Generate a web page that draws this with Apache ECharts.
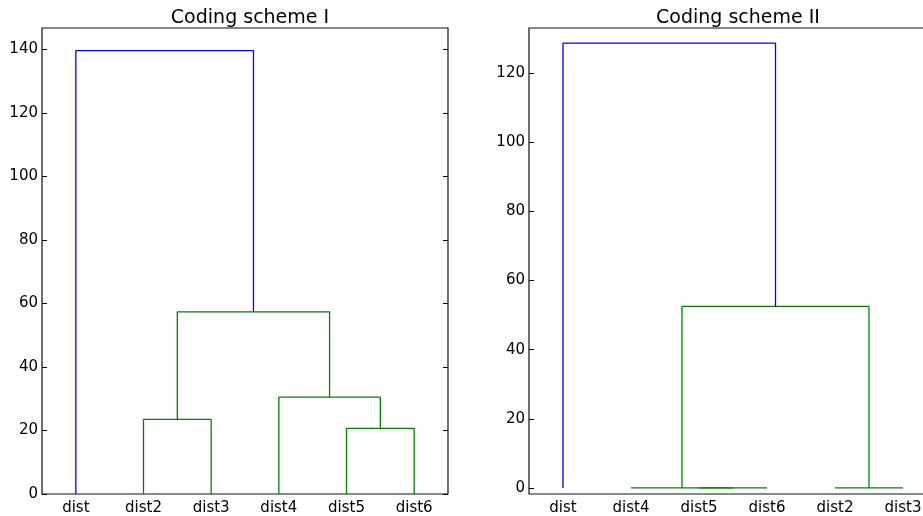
<!DOCTYPE html>
<html>
<head>
<meta charset="utf-8">
<script src="https://cdn.jsdelivr.net/npm/echarts@6/dist/echarts.min.js"></script>
<style>
html,body{margin:0;padding:0;overflow:hidden;background:#fff;}
#c{width:940px;height:516px;}
</style>
</head>
<body>
<div id="c"></div>
<script>
// ---- data ----
const titles = ['Coding scheme I', 'Coding scheme II'];
// leaf order as drawn
const leavesI = ['dist', 'dist2', 'dist3', 'dist4', 'dist5', 'dist6'];
const leavesII = ['dist', 'dist4', 'dist5', 'dist6', 'dist2', 'dist3'];
// merges: [childA, childB, height]; leaves are their index in leaf order, clusters are n + merge index
const mergesI = [[4, 5, 20.7], [1, 2, 23.5], [3, 6, 30.5], [7, 8, 57.4], [0, 9, 139.7]];
const mergesII = [[2, 3, 0], [1, 6, 0], [4, 5, 0], [7, 8, 52.5], [0, 9, 128.6]];
const yTicksI = [0, 20, 40, 60, 80, 100, 120, 140];
const yTicksII = [0, 20, 40, 60, 80, 100, 120];
const yRangeI = [0, 146.8];
const yRangeII = [-1.75, 133];

function links(leaves, merges) {
  const n = leaves.length;
  const pos = [], hgt = [];
  for (let i = 0; i < n; i++) { pos.push(5 + 10 * i); hgt.push(0); }
  const maxH = Math.max.apply(null, merges.map(m => m[2]));
  const thr = 0.7 * maxH;
  const out = [];
  merges.forEach(m => {
    const a = m[0], b = m[1], h = m[2];
    out.push({
      pts: [[pos[a], hgt[a]], [pos[a], h], [pos[b], h], [pos[b], hgt[b]]],
      color: h > thr ? '#0000ff' : '#008000'
    });
    pos.push((pos[a] + pos[b]) / 2);
    hgt.push(h);
  });
  return out;
}

const chart = echarts.init(document.getElementById('c'), null, {renderer: 'canvas'});
const grids = [
  {left: 42, top: 28, width: 406, height: 466},
  {left: 529, top: 28, width: 408, height: 466}
];
const xAxes = [], yAxes = [], series = [];
const panels = [[leavesI, mergesI, yTicksI, yRangeI], [leavesII, mergesII, yTicksII, yRangeII]];
panels.forEach((p, gi) => {
  const [leaves, merges, ticks, range] = p;
  xAxes.push({
    type: 'category', gridIndex: gi, data: leaves, boundaryGap: true, position: 'bottom',
    axisLine: {show: false}, axisTick: {show: false}, splitLine: {show: false},
    axisLabel: {color: '#000', fontSize: 15, fontFamily: 'DejaVu Sans', margin: 7}
  });
  xAxes.push({
    type: 'value', gridIndex: gi, min: 0, max: 60, show: false
  });
  const yBase = {
    type: 'value', gridIndex: gi, min: range[0], max: range[1],
    axisLine: {show: false}, splitLine: {show: false},
    axisTick: {show: true, inside: true, length: 5, customValues: ticks, lineStyle: {color: '#000', width: 1}}
  };
  yAxes.push(Object.assign({}, yBase, {
    position: 'left',
    axisLabel: {color: '#000', fontSize: 15, fontFamily: 'DejaVu Sans', margin: 4, customValues: ticks}
  }));
  yAxes.push(Object.assign({}, yBase, {
    position: 'right', axisLabel: {show: false}
  }));
  links(leaves, merges).forEach(l => {
    series.push({
      type: 'line', xAxisIndex: gi * 2 + 1, yAxisIndex: gi * 2,
      data: l.pts, showSymbol: false, symbol: 'none', silent: true,
      lineStyle: {color: l.color, width: 1.3}, z: 3
    });
  });
});

chart.setOption({
  animation: false,
  backgroundColor: '#fff',
  title: [
    {text: titles[0], left: 245, top: 4, textAlign: 'center',
     textStyle: {fontSize: 19, fontWeight: 'normal', color: '#000', fontFamily: 'DejaVu Sans'}},
    {text: titles[1], left: 733, top: 4, textAlign: 'center',
     textStyle: {fontSize: 19, fontWeight: 'normal', color: '#000', fontFamily: 'DejaVu Sans'}}
  ],
  grid: grids.map(g => Object.assign({show: true, borderColor: '#111', borderWidth: 1.2, backgroundColor: 'transparent'}, g)),
  xAxis: xAxes,
  yAxis: yAxes,
  series: series
});
</script>
</body>
</html>
